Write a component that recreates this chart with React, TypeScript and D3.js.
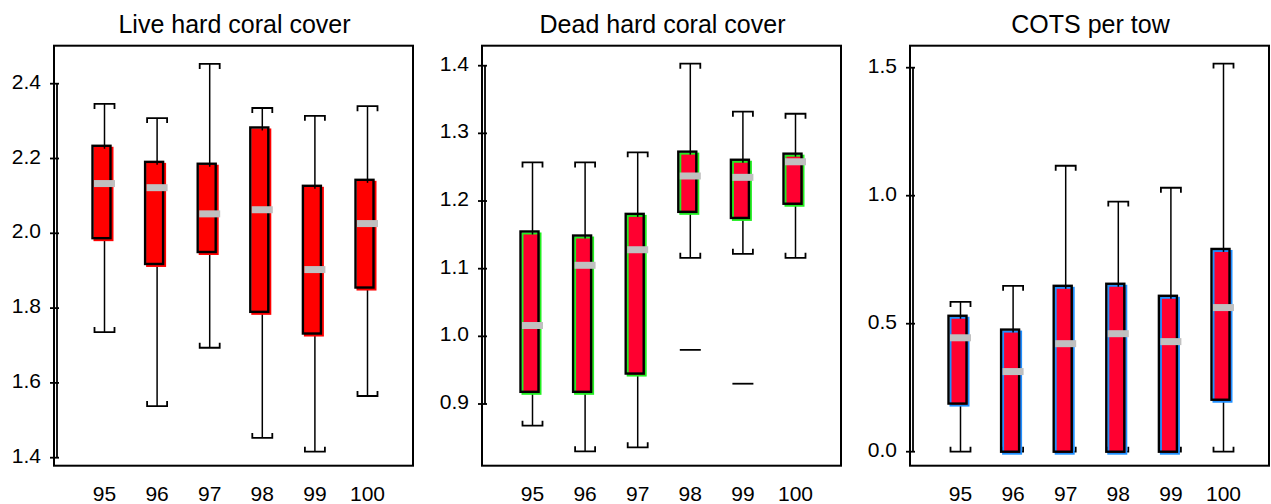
import { useEffect, useRef } from 'react';
import * as d3 from 'd3';

const years = ['95', '96', '97', '98', '99', '100'];

// Live hard coral cover
const liveHi = [2.346, 2.308, 2.453, 2.335, 2.314, 2.340];
const liveQ3 = [2.234, 2.191, 2.186, 2.283, 2.127, 2.143];
const liveMed = [2.133, 2.122, 2.052, 2.063, 1.903, 2.026];
const liveQ1 = [1.987, 1.918, 1.950, 1.790, 1.732, 1.855];
const liveLo = [1.736, 1.538, 1.694, 1.453, 1.416, 1.565];
const liveOut = [null, null, null, null, null, null];
const liveTicks = [1.4, 1.6, 1.8, 2.0, 2.2, 2.4];

// Dead hard coral cover
const deadHi = [1.257, 1.257, 1.272, 1.403, 1.332, 1.329];
const deadQ3 = [1.155, 1.149, 1.181, 1.273, 1.261, 1.270];
const deadMed = [1.016, 1.105, 1.128, 1.237, 1.235, 1.258];
const deadQ1 = [0.918, 0.918, 0.945, 1.184, 1.175, 1.196];
const deadLo = [0.868, 0.830, 0.836, 1.116, 1.122, 1.116];
const deadOut = [null, null, null, 0.980, 0.930, null];
const deadTicks = [0.9, 1.0, 1.1, 1.2, 1.3, 1.4];

// COTS per tow
const cotsHi = [0.585, 0.648, 1.117, 0.977, 1.031, 1.516];
const cotsQ3 = [0.531, 0.477, 0.648, 0.656, 0.609, 0.792];
const cotsMed = [0.445, 0.313, 0.422, 0.461, 0.430, 0.563];
const cotsQ1 = [0.188, 0, 0, 0, 0, 0.203];
const cotsLo = [0, 0, 0, 0, 0, 0];
const cotsOut = [null, null, null, null, null, null];
const cotsTicks = [0, 0.5, 1.0, 1.5];

const panels = [
  { title: 'Live hard coral cover', hi: liveHi, q3: liveQ3, med: liveMed, q1: liveQ1, lo: liveLo, out: liveOut, ticks: liveTicks,
    fill: '#ff0000', edge: '#ff0000', domain: [1.4, 2.4], range: [457.7, 83.7] },
  { title: 'Dead hard coral cover', hi: deadHi, q3: deadQ3, med: deadMed, q1: deadQ1, lo: deadLo, out: deadOut, ticks: deadTicks,
    fill: '#ff0030', edge: '#22ee22', domain: [0.9, 1.4], range: [404, 65.7] },
  { title: 'COTS per tow', hi: cotsHi, q3: cotsQ3, med: cotsMed, q1: cotsQ1, lo: cotsLo, out: cotsOut, ticks: cotsTicks,
    fill: '#ff0030', edge: '#2090ff', domain: [0, 1.5], range: [451.7, 67.7] },
];

const W = 1271;
const H = 504;
const FONT = '"Liberation Sans", Arial, sans-serif';

export default function App() {
  const ref = useRef(null);
  useEffect(() => {
    const svg = d3.select(ref.current);
    svg.selectAll('*').remove();
    const fmt = d3.format('.1f');

    panels.forEach((p, i) => {
      const left = 54 + 428 * i;
      const fw = 359;
      const top = 45.7;
      const bottom = 465.7;
      const axisX = left + 2;
      const g = svg.append('g');

      const x = d3.scalePoint().domain(years).range([left + 50.5, left + 313.5]);
      const y = d3.scaleLinear().domain(p.domain).range(p.range);

      // titulo
      g.append('text')
        .attr('x', left + fw / 2 + 1)
        .attr('y', 33)
        .attr('text-anchor', 'middle')
        .attr('font-family', FONT)
        .attr('font-size', 25)
        .attr('fill', '#000')
        .text(p.title);

      // marco
      g.append('rect')
        .attr('x', left).attr('y', top)
        .attr('width', fw).attr('height', bottom - top)
        .attr('fill', 'none').attr('stroke', '#000').attr('stroke-width', 2);

      // eje y
      const t0 = d3.min(p.ticks);
      const t1 = d3.max(p.ticks);
      g.append('line')
        .attr('x1', axisX + 1).attr('x2', axisX + 1)
        .attr('y1', y(t0)).attr('y2', y(t1))
        .attr('stroke', '#000').attr('stroke-width', 1.8);
      p.ticks.forEach(t => {
        g.append('line')
          .attr('x1', axisX - 6).attr('x2', axisX + 3)
          .attr('y1', y(t)).attr('y2', y(t))
          .attr('stroke', '#000').attr('stroke-width', 1.8);
        g.append('text')
          .attr('x', axisX - 15)
          .attr('y', y(t) + 5)
          .attr('text-anchor', 'end')
          .attr('font-family', FONT)
          .attr('font-size', 21)
          .attr('fill', '#000')
          .text(fmt(t));
      });

      // etiquetas x
      years.forEach(yr => {
        g.append('text')
          .attr('x', x(yr))
          .attr('y', 501)
          .attr('text-anchor', 'middle')
          .attr('font-family', FONT)
          .attr('font-size', 21)
          .attr('fill', '#000')
          .text(yr);
      });

      // cajas
      years.forEach((yr, k) => {
        const cx = x(yr);
        const yHi = y(p.hi[k]);
        const yQ3 = y(p.q3[k]);
        const yQ1 = y(p.q1[k]);
        const yLo = y(p.lo[k]);
        const bw = 18;

        // bigotes
        g.append('line')
          .attr('x1', cx).attr('x2', cx).attr('y1', yHi).attr('y2', yQ3)
          .attr('stroke', '#000').attr('stroke-width', 1.5);
        g.append('line')
          .attr('x1', cx).attr('x2', cx).attr('y1', yQ1).attr('y2', yLo)
          .attr('stroke', '#000').attr('stroke-width', 1.5);
        g.append('path')
          .attr('d', `M${cx - 10},${yHi + 5}V${yHi}H${cx + 10}V${yHi + 5}`)
          .attr('fill', 'none').attr('stroke', '#000').attr('stroke-width', 1.8);
        g.append('path')
          .attr('d', `M${cx - 10},${yLo - 5}V${yLo}H${cx + 10}V${yLo - 5}`)
          .attr('fill', 'none').attr('stroke', '#000').attr('stroke-width', 1.8);

        // caja de color desplazada
        g.append('rect')
          .attr('x', cx - 10).attr('y', yQ3 + 2)
          .attr('width', bw).attr('height', yQ1 - yQ3)
          .attr('fill', p.fill).attr('stroke', p.edge).attr('stroke-width', 2);
        // contorno negro
        g.append('rect')
          .attr('x', cx - 12).attr('y', yQ3)
          .attr('width', bw).attr('height', yQ1 - yQ3)
          .attr('fill', 'none').attr('stroke', '#000').attr('stroke-width', 2.4);
        // bigote entrando en la caja
        g.append('line')
          .attr('x1', cx).attr('x2', cx).attr('y1', yQ3).attr('y2', yQ3 + 3)
          .attr('stroke', '#000').attr('stroke-width', 1.5);

        // mediana
        g.append('rect')
          .attr('x', cx - 10.5).attr('y', y(p.med[k]) - 3.5)
          .attr('width', 21).attr('height', 7)
          .attr('fill', '#c0c0c0');

        // atipicos
        if (p.out[k] != null) {
          g.append('line')
            .attr('x1', cx - 10.5).attr('x2', cx + 10.5)
            .attr('y1', y(p.out[k])).attr('y2', y(p.out[k]))
            .attr('stroke', '#000').attr('stroke-width', 1.8);
        }
      });
    });
  }, []);

  return (
    <div style={{ position: 'absolute', left: 0, top: 0 }}>
      <svg ref={ref} width={W} height={H} style={{ display: 'block', background: '#fff' }} />
    </div>
  );
}
